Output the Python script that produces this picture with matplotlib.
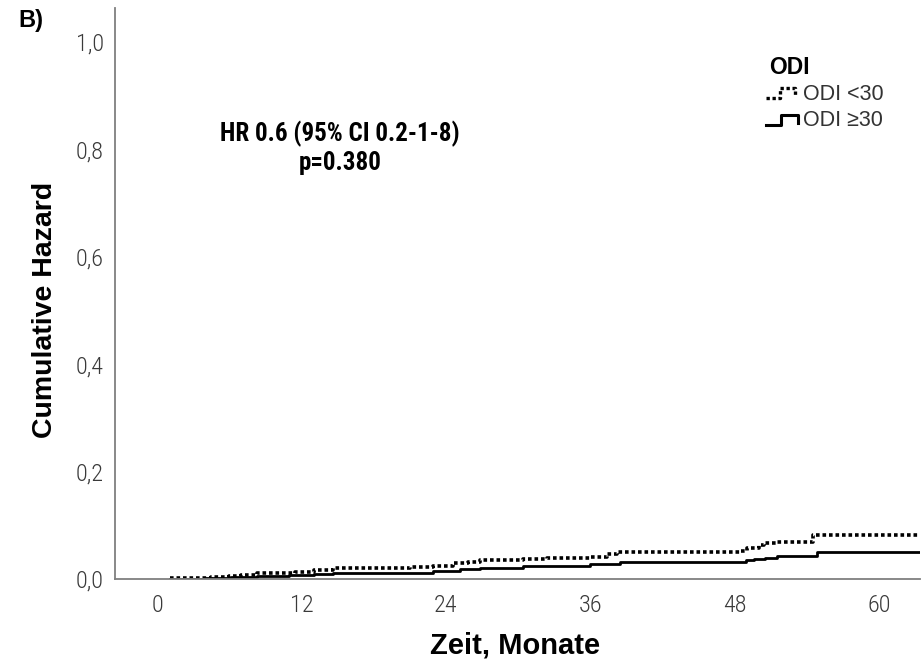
import matplotlib
matplotlib.use("Agg")
import matplotlib.pyplot as plt
from matplotlib import font_manager
from matplotlib.lines import Line2D
from matplotlib.ticker import FuncFormatter

# cumulative hazard, step functions (months, value)
t_low = [1.1, 3.0, 4.5, 6.0, 7.0, 8.3, 10.0, 11.5, 13.0, 14.6, 21.0, 22.9, 24.6, 25.8,
         26.8, 30.4, 32.4, 36.0, 37.4, 38.2, 48.4, 49.0, 50.0, 50.4, 51.5, 54.5, 63.4]
h_low = [0.001, 0.002, 0.004, 0.006, 0.008, 0.011, 0.012, 0.013, 0.016, 0.021, 0.022, 0.024, 0.030, 0.032,
         0.035, 0.038, 0.040, 0.041, 0.046, 0.050, 0.053, 0.058, 0.063, 0.067, 0.069, 0.081, 0.081]

t_high = [1.1, 4.0, 6.1, 8.3, 11.0, 13.0, 14.6, 19.5, 22.9, 25.2, 26.8, 30.4, 32.4, 36.0,
          38.5, 42.2, 48.9, 49.6, 50.5, 51.5, 54.8, 63.4]
h_high = [0.000, 0.001, 0.003, 0.005, 0.007, 0.009, 0.011, 0.012, 0.015, 0.019, 0.021, 0.024, 0.025, 0.027,
          0.031, 0.032, 0.035, 0.037, 0.040, 0.042, 0.050, 0.050]

x_ticks = [0, 12, 24, 36, 48, 60]
y_ticks = [0.0, 0.2, 0.4, 0.6, 0.8, 1.0]
legend_title = "ODI"
legend_labels = ["ODI <30", "ODI \u226530"]
stat_text = "HR 0.6 (95% CI 0.2-1-8)\np=0.380"


def pick_font(names):
    installed = {f.name for f in font_manager.fontManager.ttflist}
    for n in names:
        if n in installed:
            return n
    return "DejaVu Sans"


narrow = pick_font(["Liberation Sans Narrow", "Roboto Condensed", "Arial Narrow", "Liberation Sans"])
sans = pick_font(["Liberation Sans", "Arial"])
plt.rcParams["font.family"] = [sans, "DejaVu Sans"]

fig = plt.figure(figsize=(9.23, 6.71), dpi=100)
ax = fig.add_axes([115 / 923, 1 - 579 / 671, 805 / 923, 571 / 671])

ax.step(t_low, h_low, where="post", color="black", lw=2.6, linestyle=(0, (1.0, 0.8)))
ax.step(t_high, h_high, where="post", color="black", lw=2.0)

ax.set_xlim(-3.5, 63.4)
ax.set_ylim(0, 1.063)
ax.set_xticks(x_ticks)
ax.set_yticks(y_ticks)
ax.yaxis.set_major_formatter(FuncFormatter(lambda v, p: f"{v:.1f}".replace(".", ",")))
ax.tick_params(length=0, labelcolor="#3a3a3a")
ax.tick_params(axis="y", pad=8)
ax.tick_params(axis="x", pad=11)
for lab in ax.get_xticklabels() + ax.get_yticklabels():
    lab.set_fontfamily([narrow, "DejaVu Sans"])
    lab.set_fontweight("light")
    lab.set_fontsize(17.5)

for s in ["top", "right"]:
    ax.spines[s].set_visible(False)
for s in ["left", "bottom"]:
    ax.spines[s].set_color("#7f7f7f")
    ax.spines[s].set_linewidth(1.3)

ax.set_ylabel("Cumulative Hazard", fontsize=20.5, fontweight="bold")
ax.yaxis.set_label_coords(-0.0708, 0.471)
ax.set_xlabel("Zeit, Monate", fontsize=21, fontweight="bold")
ax.xaxis.set_label_coords(0.497, -0.0928)

ax.text(15.2, 0.803, stat_text, ha="center", va="center", fontsize=18, fontweight="bold",
        family=[narrow, "DejaVu Sans"], linespacing=1.2)

fig.text(31 / 923, 1 - 20 / 671, "B)", ha="center", va="center", fontsize=17, fontweight="bold")

# legend drawn by hand with step-shaped keys
fx = lambda px: px / 923
fy = lambda py: 1 - py / 671
fig.text(fx(789), fy(68), legend_title, ha="center", va="center", fontsize=16.5, fontweight="bold")
fig.add_artist(Line2D([fx(766), fx(780), fx(780), fx(795), fx(795)],
                      [fy(98), fy(98), fy(88), fy(88), fy(96)],
                      color="black", lw=2.4, linestyle=(0, (1.0, 0.8))))
fig.add_artist(Line2D([fx(766), fx(781), fx(781), fx(798), fx(798)],
                      [fy(125), fy(125), fy(115), fy(115), fy(123)],
                      color="black", lw=2.2))
for i, lab in enumerate(legend_labels):
    fig.text(fx(803), fy(94 + 26 * i), lab, ha="left", va="center", fontsize=15.5,
             color="#333333")

fig.savefig("out.png", dpi=100)
